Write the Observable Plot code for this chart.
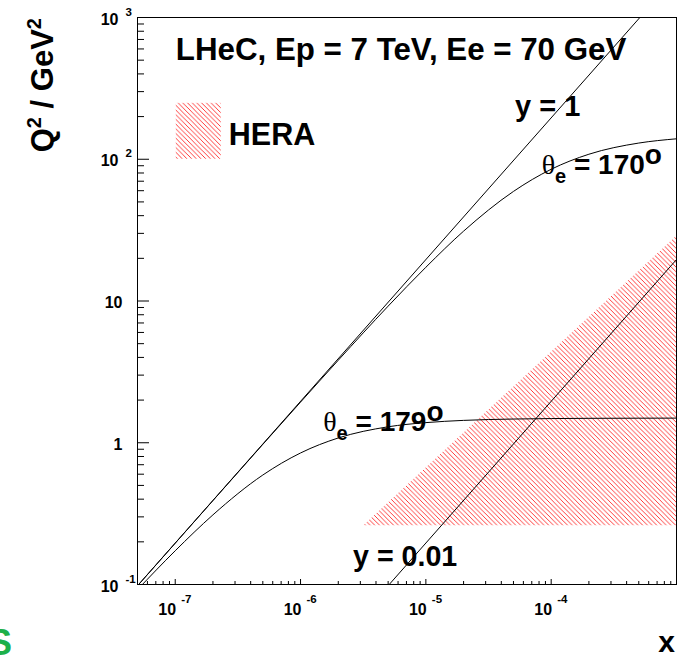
<!DOCTYPE html>
<html><head><meta charset="utf-8">
<script src="https://cdn.jsdelivr.net/npm/d3@7"></script>
<script src="https://cdn.jsdelivr.net/npm/@observablehq/plot@0.6"></script>
<style>html,body{margin:0;padding:0;background:#fff;} svg{display:block;}</style>
</head><body><div id="chart"></div>
<script>
// ---- axis domains and tick labels ----
const xDomain = [5e-8, 1e-3];
const yDomain = [0.1, 1000];
const xMajor = [1e-7, 1e-6, 1e-5, 1e-4];
const xMajorExp = ["-7", "-6", "-5", "-4"];
const yMajor = [0.1, 1, 10, 100, 1000];
const yMajorBase = ["10", "1", "10", "10", "10"];
const yMajorExp = ["-1", "", "", "2", "3"];
const minorMult = [2, 3, 4, 5, 6, 7, 8, 9];

// ---- curves ----
const yOneX = [5e-8, 1e-3];
const yOneQ2 = [0.098, 1960];
const yCentX = [5.1e-6, 1e-3];
const yCentQ2 = [0.1, 19.6];
const th170X = [5e-8, 1e-7, 2e-7, 5e-7, 1e-6, 2e-6, 5e-6, 1e-5, 2e-5, 5e-5, 1e-4, 2e-4, 5e-4, 1e-3];
const th170Q2 = [0.0979, 0.1957, 0.391, 0.974, 1.935, 3.82, 9.2, 17.3, 31.1, 59.3, 85.0, 108.5, 130.1, 139.4];
const th179X = [5e-8, 1e-7, 2e-7, 5e-7, 1e-6, 2e-6, 5e-6, 1e-5, 2e-5, 5e-5, 1e-4, 2e-4, 5e-4, 1e-3];
const th179Q2 = [0.092, 0.173, 0.31, 0.592, 0.847, 1.081, 1.296, 1.387, 1.438, 1.47, 1.481, 1.487, 1.49, 1.492];
// HERA region
const heraX = [3.2e-6, 1e-3];
const heraLow = [0.26, 0.26];
const heraHigh = [0.26, 28.5];

const zip = (xs, ys) => xs.map((x, i) => ({x, y: ys[i]}));
const xMinor = [];
for (let e = -8; e <= -4; e++) for (const m of minorMult) { const v = m * Math.pow(10, e); if (v >= xDomain[0] && v <= xDomain[1]) xMinor.push(v); }
const yMinor = [];
for (let e = -1; e <= 2; e++) for (const m of minorMult) yMinor.push(m * Math.pow(10, e));

const W = 683, H = 658, ML = 137, MR = 7, MT = 17, MB = 74;
const PW = W - ML - MR, PH = H - MT - MB;
const F = "Liberation Sans, Arial, Helvetica, sans-serif";

const hera = heraX.map((x, i) => ({x, lo: heraLow[i], hi: heraHigh[i]}));
const yLab = yMajor.map((v, i) => ({v, base: yMajorBase[i], exp: yMajorExp[i]}));
const xLab = xMajor.map((v, i) => ({v, exp: xMajorExp[i]}));

const plot = Plot.plot({
  width: W, height: H,
  marginLeft: ML, marginRight: MR, marginTop: MT, marginBottom: MB,
  style: {fontFamily: F, background: "#fff", color: "#000"},
  x: {type: "log", domain: xDomain, axis: null},
  y: {type: "log", domain: yDomain, axis: null},
  marks: [
    Plot.area(hera, {x1: "x", y1: "lo", y2: "hi", fill: "url(#hatch)", clip: true}),
    Plot.line(zip(yOneX, yOneQ2), {x: "x", y: "y", stroke: "#000", strokeWidth: 1, clip: true}),
    Plot.line(zip(yCentX, yCentQ2), {x: "x", y: "y", stroke: "#000", strokeWidth: 1, clip: true}),
    Plot.line(zip(th170X, th170Q2), {x: "x", y: "y", stroke: "#000", strokeWidth: 1, curve: "monotone-x", clip: true}),
    Plot.line(zip(th179X, th179Q2), {x: "x", y: "y", stroke: "#000", strokeWidth: 1, curve: "monotone-x", clip: true}),
    Plot.frame({stroke: "#000", strokeWidth: 1}),
    Plot.tickY(yMajor, {y: d => d, insetRight: PW - 12, stroke: "#000"}),
    Plot.tickY(yMinor, {y: d => d, insetRight: PW - 7, stroke: "#000"}),
    Plot.tickX(xMajor, {x: d => d, insetTop: PH - 5, stroke: "#000"}),
    Plot.tickX(xMinor, {x: d => d, insetTop: PH - 3, stroke: "#000"}),
    Plot.text(xLab, {x: "v", text: () => "10", frameAnchor: "bottom", textAnchor: "middle", lineAnchor: "bottom", dx: -8, dy: 30, fontSize: 16, fontWeight: "bold"}),
    Plot.text(xLab, {x: "v", text: "exp", frameAnchor: "bottom", textAnchor: "start", lineAnchor: "bottom", dx: 6, dy: 18, fontSize: 11.5, fontWeight: "bold"}),
    Plot.text(yLab.filter(d => d.exp), {y: "v", text: "base", frameAnchor: "left", textAnchor: "end", lineAnchor: "bottom", dx: -19, dy: 7, fontSize: 16, fontWeight: "bold"}),
    Plot.text(yLab.filter(d => !d.exp), {y: "v", text: "base", frameAnchor: "left", textAnchor: "end", lineAnchor: "bottom", dx: -15, dy: 7, fontSize: 16, fontWeight: "bold"}),
    Plot.text(yLab.filter(d => d.exp), {y: "v", text: "exp", frameAnchor: "left", textAnchor: "start", lineAnchor: "bottom", dx: -12, dy: -2, fontSize: 11.5, fontWeight: "bold"})
  ]
});

const svg = d3.select(plot);
// hatch pattern
const defs = svg.insert("defs", ":first-child");
const s = 4.7;
defs.append("pattern").attr("id", "hatch").attr("patternUnits", "userSpaceOnUse")
  .attr("width", s).attr("height", s)
  .append("path")
  .attr("d", `M0,0L${s},${s}M-1,${s-1}L1,${s+1}M${s-1},-1L${s+1},1`)
  .attr("stroke", "#ff1a1a").attr("stroke-width", 0.85).attr("fill", "none");

const sx = v => plot.scale("x").apply(v), sy = v => plot.scale("y").apply(v);

// legend swatch + text
svg.append("rect").attr("x", sx(1.02e-7)).attr("y", sy(248))
  .attr("width", sx(2.33e-7) - sx(1.02e-7)).attr("height", sy(100) - sy(248))
  .attr("fill", "url(#hatch)");
const lab = (x, y, size) => svg.append("text").attr("x", sx(x)).attr("y", sy(y))
  .attr("text-anchor", "start")
  .attr("font-family", F).attr("font-weight", "bold").attr("font-size", size).attr("fill", "#000");
lab(2.7e-7, 125.6, 30.5).text("HERA");
lab(1.02e-7, 498, 31.3).text("LHeC, Ep = 7 TeV, Ee = 70 GeV");
lab(5.2e-5, 200, 29).text("y = 1");
lab(2.65e-6, 0.134, 28.6).text("y = 0.01");

function theta(x, y, deg) {
  const t = lab(x, y, 28);
  t.append("tspan").attr("font-family", "Liberation Serif, DejaVu Serif, serif").attr("font-weight", "normal").attr("font-size", 28).text("θ");
  t.append("tspan").attr("font-size", 20).attr("dy", 9).text("e");
  t.append("tspan").attr("dy", -9).text(" = " + deg);
  t.append("tspan").attr("font-size", 28).attr("dy", -10).text("o");
}
theta(8.47e-5, 78.4, "170");
theta(1.53e-6, 1.195, "179");

// axis titles
svg.append("text").attr("transform", "translate(53,18) rotate(-90)")
  .attr("text-anchor", "end").attr("font-family", F).attr("font-weight", "bold").attr("font-size", 31)
  .call(t => {
    t.append("tspan").text("Q");
    t.append("tspan").attr("font-size", 20).attr("dy", -12).text("2");
    t.append("tspan").attr("dy", 12).text(" / GeV");
    t.append("tspan").attr("font-size", 20).attr("dy", -12).text("2");
  });
svg.append("text").attr("x", 675).attr("y", 652).attr("text-anchor", "end")
  .attr("font-family", F).attr("font-weight", "bold").attr("font-size", 30).text("x");
svg.append("text").attr("x", -12).attr("y", 655).attr("text-anchor", "start")
  .attr("font-family", F).attr("font-weight", "bold").attr("font-size", 36).attr("fill", "#1db04a").text("S");

document.getElementById("chart").appendChild(plot);
</script>
</body></html>
